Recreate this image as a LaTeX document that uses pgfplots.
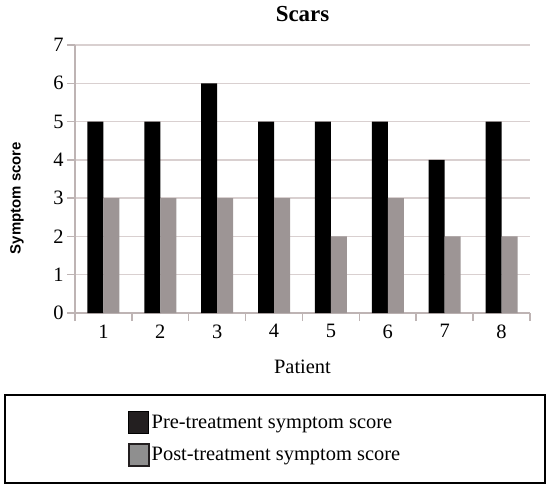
\documentclass[border=0pt]{standalone}
\usepackage{pgfplots}
\pgfplotsset{compat=1.18}
\usepackage{fontspec}
\setmainfont{Liberation Serif}
\setsansfont{Liberation Sans}
\definecolor{postgray}{RGB}{157,149,149}
\definecolor{gridc}{RGB}{217,208,208}
\definecolor{axisc}{RGB}{190,180,180}
\definecolor{legpost}{RGB}{143,143,143}
\definecolor{legpre}{RGB}{35,31,32}

\begin{document}
\begin{tikzpicture}
\begin{axis}[
  name=ax,
  scale only axis,
  width=455bp, height=268bp,
  ybar=0pt, bar width=16bp,
  xmin=0.5, xmax=8.5, ymin=0, ymax=7,
  xtick={1,...,8},
  minor xtick={0.5,1.5,...,8.5},
  ytick={0,...,7},
  ymajorgrids,
  grid style={gridc, line width=1.5bp},
  axis x line*=bottom, axis y line*=left,
  axis line style={axisc, line width=1.5bp},
  tick align=outside,
  major tick length=8bp, minor tick length=8bp,
  major x tick style={draw=none},
  tick style={axisc, line width=1.5bp},
  /pgf/number format/assume math mode=true,
  tick label style={font=\fontsize{20.5}{24}\selectfont},
  title={Scars},
  title style={at={(0.5,1)}, anchor=center, yshift=25bp, font=\fontsize{23}{26}\selectfont\bfseries},
  xlabel={Patient},
  xlabel style={at={(0.5,0)}, anchor=center, yshift=-54bp, font=\fontsize{20.5}{24}\selectfont},
  ylabel={Symptom score},
  ylabel style={at={(0,0.5)}, anchor=center, yshift=58bp, xshift=-19bp, font=\fontsize{15}{17}\selectfont\sffamily\bfseries},
  legend style={at={(0,0)}, anchor=west, xshift=53bp, yshift=-126bp, draw=none, fill=none,
    font=\fontsize{20.5}{24}\selectfont, row sep=9bp, inner sep=0pt},
  legend cell align=left,
]
\addplot[fill=black, draw=none,
  legend image code/.code={\draw[fill=legpre, draw=black, line width=1bp] (0bp,-11bp) rectangle (20bp,11bp);}]
  coordinates {(1,5) (2,5) (3,6) (4,5) (5,5) (6,5) (7,4) (8,5)};
\addplot[fill=postgray, draw=none,
  legend image code/.code={\draw[fill=legpost, draw=legpre, line width=1.5bp] (0bp,-11bp) rectangle (20bp,11bp);}]
  coordinates {(1,3) (2,3) (3,3) (4,3) (5,2) (6,3) (7,2) (8,2)};
\legend{Pre-treatment symptom score, Post-treatment symptom score}
\end{axis}
\draw[line width=2.5bp] ([xshift=-70bp,yshift=-82bp]ax.south west) rectangle ([xshift=15bp,yshift=-170bp]ax.south east);
\pgfresetboundingbox
\path ([xshift=-75bp,yshift=-172bp]ax.south west) rectangle ([xshift=18bp,yshift=45bp]ax.north east);
\end{tikzpicture}
\end{document}
